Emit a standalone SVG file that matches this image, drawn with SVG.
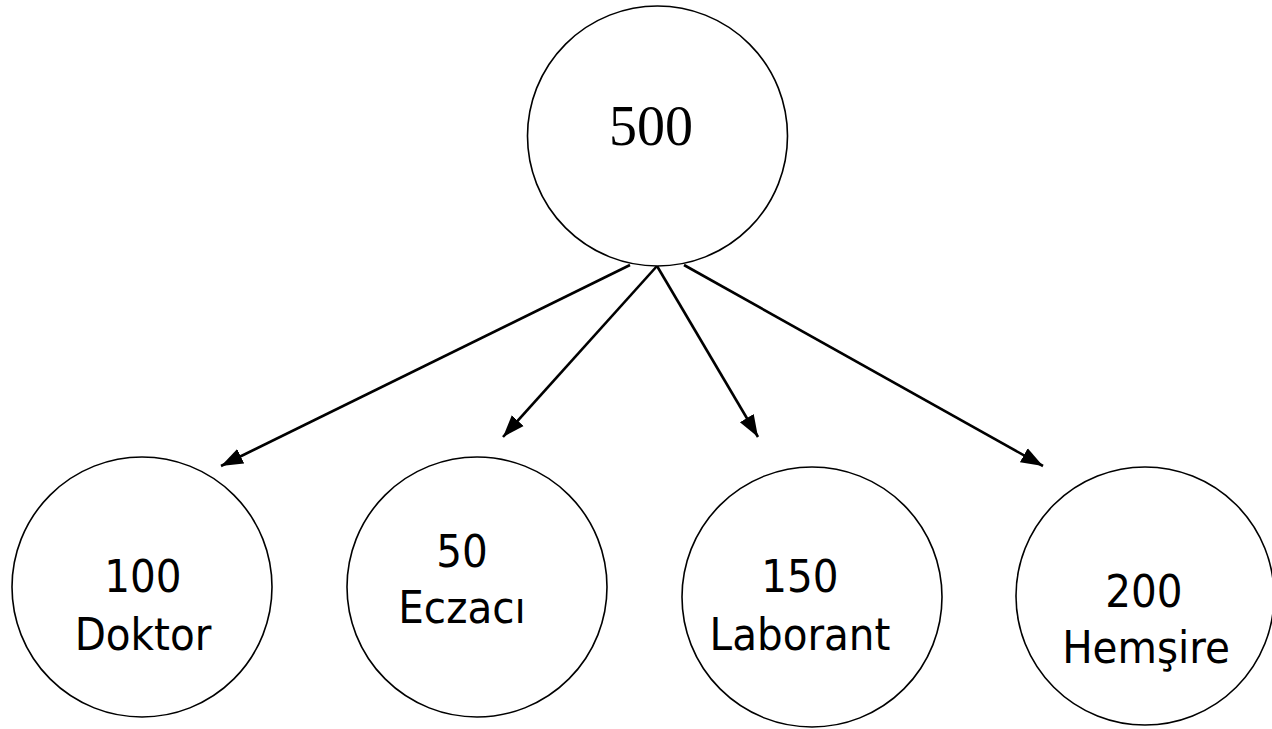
<svg xmlns="http://www.w3.org/2000/svg" width="1272" height="729" viewBox="0 0 1272 729">
  <style>
    .node { fill: #ffffff; stroke: #000000; stroke-width: 1.6; }
    .edge { stroke: #000000; stroke-width: 2.6; fill: none; marker-end: url(#arrow); }
    .root { font-family: "Liberation Serif", "Times New Roman", serif; font-size: 56px; fill: #000; text-anchor: middle; }
    .lbl { font-family: "DejaVu Sans Condensed", "DejaVu Sans", sans-serif; font-stretch: condensed; font-size: 45px; fill: #000; text-anchor: middle; }
  </style>
  <defs>
    <marker id="arrow" markerUnits="userSpaceOnUse" markerWidth="24" markerHeight="18" viewBox="0 0 24 18" refX="22" refY="9" orient="auto">
      <path d="M0,1 L22,9 L0,17 Z" fill="#000"/>
    </marker>
  </defs>
  <rect width="1272" height="729" fill="#ffffff"/>

  <!-- connectors -->
  <g id="connectors">
    <line class="edge" x1="630" y1="265" x2="221" y2="466"/>
    <line class="edge" x1="657" y1="266" x2="503" y2="437"/>
    <line class="edge" x1="657" y1="266" x2="758" y2="437"/>
    <line class="edge" x1="684" y1="265" x2="1043" y2="466"/>
  </g>

  <g id="node-total">
    <circle class="node" cx="657.5" cy="136" r="130"/>
    <text class="root" x="651" y="145">500</text>
  </g>

  <g id="node-doktor">
    <circle class="node" cx="142" cy="587" r="130"/>
    <text class="lbl" x="143" y="592">100</text>
    <text class="lbl" x="143" y="650">Doktor</text>
  </g>

  <g id="node-eczaci">
    <circle class="node" cx="477" cy="587" r="130"/>
    <text class="lbl" x="462" y="567">50</text>
    <text class="lbl" x="462" y="623">Eczacı</text>
  </g>

  <g id="node-laborant">
    <circle class="node" cx="812" cy="597" r="130"/>
    <text class="lbl" x="800" y="592">150</text>
    <text class="lbl" x="800" y="650">Laborant</text>
  </g>

  <g id="node-hemsire">
    <circle class="node" cx="1145" cy="596" r="129"/>
    <text class="lbl" x="1144" y="607">200</text>
    <text class="lbl" x="1146" y="663">Hemşire</text>
  </g>
</svg>
